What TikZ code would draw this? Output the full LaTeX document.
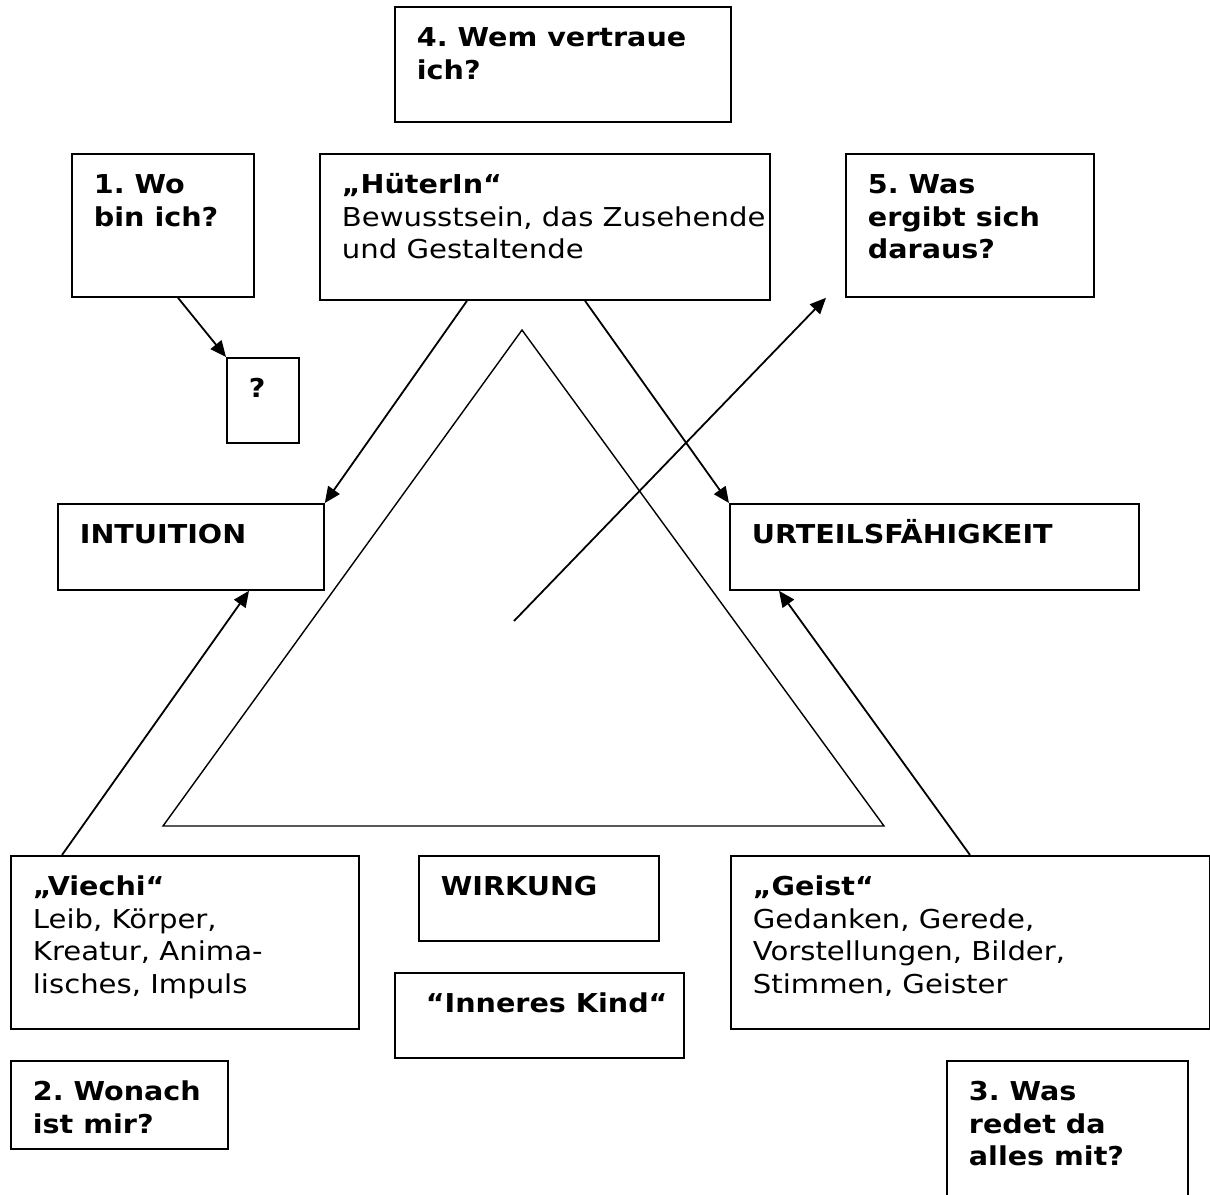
\documentclass[tikz,border=0pt]{standalone}
\usepackage{fontspec}
\setmainfont{DejaVu Sans}[UprightFeatures={FakeStretch=1.12}, BoldFeatures={FakeStretch=1.1}]
\usetikzlibrary{arrows.meta,positioning}
\newcommand{\feld}[3]{\parbox[t][#2][t]{#1}{\raggedright\frenchspacing\rule{0pt}{12.5pt}#3}}

\begin{document}
\begin{tikzpicture}[x=0.5pt,y=-0.5pt]
\tikzstyle{box}=[draw, line width=0.9pt, anchor=north west, inner xsep=11pt, inner ysep=7.5pt, font=\fontsize{13}{16.25}\selectfont]
\tikzstyle{pfeil}=[line width=0.9pt, -{Triangle[length=8pt,width=7pt]}]

\useasboundingbox (0,0) rectangle (1210,1194);
\clip (0,0) rectangle (1210,1194);

% die fragen
\node[box] (wem) at (394,6) {\feld{146pt}{42.5pt}{\textbf{4. Wem vertraue}\\\textbf{ich?}}};
\node[box] (wo) at (71,153) {\feld{69pt}{56.5pt}{\textbf{1. Wo}\\\textbf{bin ich?}}};
\node[box] (ergibt) at (845,153) {\feld{102pt}{56.5pt}{\textbf{5. Was}\\\textbf{ergibt sich}\\\textbf{daraus?}}};
\node[box] (frage) at (226,357) {\feld{14pt}{27.5pt}{\textbf{?}}};
\node[box] (wonach) at (10,1060) {\feld{86.5pt}{29pt}{\mbox{\textbf{2. Wonach}}\\\textbf{ist mir?}}};
\node[box] (redet) at (946,1060) {\feld{98.5pt}{59pt}{\textbf{3. Was}\\\textbf{redet da}\\\textbf{alles mit?}}};

% die drei ecken
\node[box] (hueter) at (319,153) {\feld{203pt}{58pt}{\textbf{„HüterIn“}\\\mbox{Bewusstsein, das Zusehende}\\und Gestaltende}};
\node[box] (viechi) at (10,855) {\feld{152pt}{71.5pt}{\textbf{„Viechi“}\\Leib, Körper,\\Kreatur, Anima-\\lisches, Impuls}};
\node[box] (geist) at (730,855) {\feld{217.5pt}{71.5pt}{\textbf{„Geist“}\\Gedanken, Gerede,\\Vorstellungen, Bilder,\\Stimmen, Geister}};

\node[box] (intuition) at (57,503) {\feld{111pt}{28pt}{\textbf{INTUITION}}};
\node[box] (urteil) at (729,503) {\feld{182.5pt}{28pt}{\textbf{URTEILSFÄHIGKEIT}}};
\node[box] (wirkung) at (418,855) {\feld{98pt}{27.5pt}{\textbf{WIRKUNG}}};
\node[box] (kind) at (394,972) {\feld{122.5pt}{27.5pt}{\mbox{\hspace*{4.5pt}\textbf{“Inneres Kind“}}}};

\draw[line width=0.7pt] (522,330) -- (163,826) -- (884,826) -- cycle;
\coordinate (mitte) at (514,621);

\draw[pfeil] ([xshift=53.5pt]wo.south west) -- (frage.north west);
\draw[pfeil] ([xshift=74pt]hueter.south west) -- (intuition.north east);
\draw[pfeil] ([xshift=133pt]hueter.south west) -- (urteil.north west);
\draw[pfeil] (mitte) -- ([xshift=-9.5pt]ergibt.south west);
\draw[pfeil] ([xshift=26pt]viechi.north west) -- ([xshift=96pt]intuition.south west);
\draw[pfeil] ([xshift=120pt]geist.north west) -- ([xshift=25pt]urteil.south west);
\end{tikzpicture}
\end{document}
